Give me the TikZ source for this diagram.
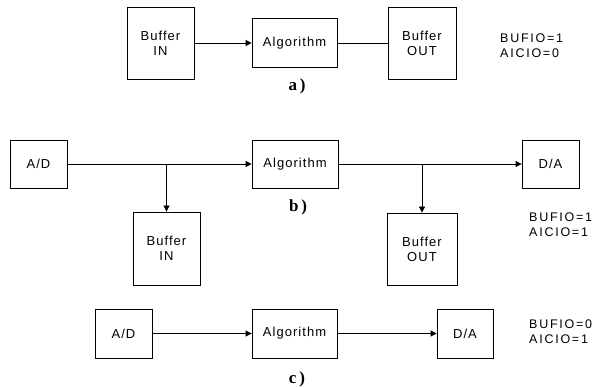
\documentclass[tikz,border=0pt]{standalone}
\usepackage{fontspec}
\setmainfont{Liberation Sans}
\newfontfamily\blkfont{Liberation Sans}[LetterSpace=8]
\newfontfamily\flagfont{Liberation Sans}[LetterSpace=14]
\newfontfamily\capfont{Liberation Serif}
\usepackage{tikz}
\usetikzlibrary{arrows.meta}

\begin{document}
\begin{tikzpicture}[x=1pt,y=-1pt,
        blk/.style={draw,line width=0.8pt,inner sep=0pt,align=center,font=\blkfont\fontsize{13}{15}\selectfont},
        flag/.style={anchor=west,align=left,inner sep=0pt,font=\flagfont\fontsize{12.5}{15}\selectfont},
        partlbl/.style={inner sep=0pt,font=\capfont\fontsize{17}{17}\bfseries\selectfont},
        sig/.style={line width=0.8pt,-{Triangle[length=6pt,width=6pt]}}]
    \useasboundingbox (0,0) rectangle (596,387);
    % a)
    \node[blk,minimum width=67pt,minimum height=72pt] (abufin) at (160.5,43) {Buffer\\IN};
    \node[blk,minimum width=85pt,minimum height=49pt] (aalg) at (294.5,43) {Algorithm};
    \node[blk,minimum width=68pt,minimum height=72pt] (abufout) at (422,43) {Buffer\\OUT};
    \draw[sig] (abufin) -- (aalg);
    \draw[line width=0.8pt] (aalg) -- (abufout);
    \node[partlbl] (alabel) at (297,86) {a\,)};
    \node[flag] (aflag) at (500,46) {BUFIO=1\\AICIO=0};
    % b)
    \node[blk,minimum width=57pt,minimum height=48pt] (bad) at (38.5,164) {A/D};
    \node[blk,minimum width=86pt,minimum height=48pt] (balg) at (295,164) {Algorithm};
    \node[blk,minimum width=57pt,minimum height=48pt] (bda) at (550.5,164) {D/A};
    \node[blk,minimum width=67pt,minimum height=73pt] (bbufin) at (166.5,248.5) {Buffer\\IN};
    \node[blk,minimum width=70pt,minimum height=72pt] (bbufout) at (422,249) {Buffer\\OUT};
    \draw[sig] (bad) -- (balg);
    \draw[sig] (balg) -- (bda);
    \draw[sig] (bbufin.north |- bad.east) -- (bbufin);
    \draw[sig] (bbufout.north |- balg.east) -- (bbufout);
    \node[partlbl] (blabel) at (298,207) {b\,)};
    \node[flag] (bflag) at (529,224.5) {BUFIO=1\\AICIO=1};
    % c)
    \node[blk,minimum width=57pt,minimum height=49pt] (cad) at (123.5,333.5) {A/D};
    \node[blk,minimum width=85pt,minimum height=49pt] (calg) at (294.5,333.5) {Algorithm};
    \node[blk,minimum width=56pt,minimum height=49pt] (cda) at (465,333.5) {D/A};
    \draw[sig] (cad) -- (calg);
    \draw[sig] (calg) -- (cda);
    \node[partlbl] (clabel) at (297,379) {c\,)};
    \node[flag] (cflag) at (529,331.5) {BUFIO=0\\AICIO=1};
\end{tikzpicture}
\end{document}
